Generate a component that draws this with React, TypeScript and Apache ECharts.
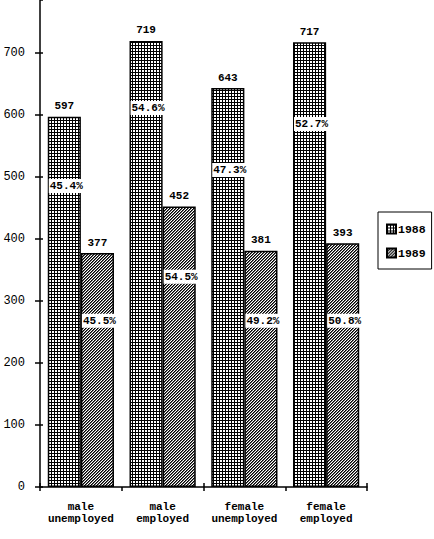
import React, { useEffect, useRef } from "react";
import * as echarts from "echarts";

const categories = ["male\nunemployed", "male\nemployed", "female\nunemployed", "female\nemployed"];
const seriesNames = ["1988", "1989"];
const values1988 = [597, 719, 643, 717];
const values1989 = [377, 452, 381, 393];
const share1988 = ["45.4%", "54.6%", "47.3%", "52.7%"];
const share1989 = ["45.5%", "54.5%", "49.2%", "50.8%"];
// value level (on the y scale) at which each share label sits
const shareAt1988 = [485, 611, 511, 585];
const shareAt1989 = [268, 339, 268, 268];
const yTicks = [0, 100, 200, 300, 400, 500, 600, 700];

const MONO = "'Liberation Mono', 'DejaVu Sans Mono', monospace";
const Y_MAX = 785;
const CAT_GAP = 0.19;

function makeGrid(): HTMLCanvasElement {
  const c = document.createElement("canvas");
  c.width = 3;
  c.height = 3;
  const ctx = c.getContext("2d")!;
  ctx.fillStyle = "#000";
  ctx.fillRect(0, 0, 3, 3);
  ctx.fillStyle = "#fff";
  ctx.fillRect(1, 1, 2, 2);
  return c;
}

function makeHatch(): HTMLCanvasElement {
  const c = document.createElement("canvas");
  c.width = 3;
  c.height = 3;
  const ctx = c.getContext("2d")!;
  ctx.fillStyle = "#fff";
  ctx.fillRect(0, 0, 3, 3);
  for (let i = 0; i < 3; i++) {
    ctx.fillStyle = "#000";
    ctx.fillRect(i, 2 - i, 1, 1);
    ctx.fillStyle = "#666";
    ctx.fillRect(i, (3 - i) % 3, 1, 1);
  }
  return c;
}

export default function App() {
  const ref = useRef<HTMLDivElement>(null);
  useEffect(() => {
    if (!ref.current) return;
    const chart = echarts.init(ref.current, null, { renderer: "svg" });
    const grid = makeGrid();
    const hatch = makeHatch();
    const shareData = (vals: number[]) => vals.map((v, i) => [i, v]);
    const shareSeries = (name: string, at: number[], texts: string[], side: number) => ({
      type: "custom",
      name: name + "share",
      z: 10,
      silent: true,
      data: shareData(at),
      renderItem: (params: any, api: any) => {
        const idx = params.dataIndex;
        const pt = api.coord([api.value(0), api.value(1)]);
        const band = api.size([1, 0])[0];
        const barW = (band * (1 - CAT_GAP)) / 2;
        const left = side === 0 ? pt[0] - barW : pt[0];
        return {
          type: "text",
          x: left + 1,
          y: pt[1],
          style: {
            text: texts[idx],
            fill: "#000",
            font: `bold 11px ${MONO}`,
            align: "left",
            verticalAlign: "middle",
            backgroundColor: "#fff",
            padding: [2, 1, 1, 1],
          },
        };
      },
    });
    const valueLabel = {
      show: true,
      position: "top",
      distance: 5,
      color: "#000",
      fontFamily: MONO,
      fontWeight: "bold",
      fontSize: 11,
    };
    chart.setOption({
      animation: false,
      backgroundColor: "#fff",
      grid: { left: 40, right: 67, top: 0, bottom: 52 },
      legend: {
        orient: "vertical",
        left: 378,
        top: 212,
        padding: [11, 6, 10, 8],
        itemGap: 12,
        itemWidth: 9,
        itemHeight: 9,
        icon: "rect",
        borderColor: "#000",
        borderWidth: 1,
        data: seriesNames,
        textStyle: { fontFamily: MONO, fontWeight: "bold", fontSize: 11.5, color: "#000", padding: [0, 0, 0, -3] },
      },
      xAxis: [
        {
          type: "category",
          position: "bottom",
          data: categories,
          axisLine: { lineStyle: { color: "#000", width: 1.5 } },
          axisTick: { show: true, length: 4, lineStyle: { color: "#000", width: 1.5 } },
          axisLabel: {
            interval: 0,
            color: "#000",
            fontFamily: MONO,
            fontWeight: "bold",
            fontSize: 11,
            lineHeight: 12,
            margin: 14,
          },
        },
        {
          type: "category",
          position: "bottom",
          data: categories,
          axisLine: { show: false },
          axisTick: { show: true, inside: true, length: 4, lineStyle: { color: "#000", width: 1.5 } },
          axisLabel: { show: false },
        },
      ],
      yAxis: [
        {
          type: "value",
          position: "left",
          min: 0,
          max: Y_MAX,
          interval: 100,
          axisLine: { show: true, lineStyle: { color: "#000", width: 1.5 } },
          axisTick: { show: true, length: 5, lineStyle: { color: "#000", width: 1.5 } },
          axisLabel: {
            color: "#000",
            fontFamily: MONO,
            fontSize: 12,
            margin: 15,
            showMaxLabel: false,
            formatter: (v: number) => (yTicks.includes(v) ? String(v) : ""),
          },
          splitLine: { show: false },
        },
        {
          type: "value",
          position: "left",
          min: 0,
          max: Y_MAX,
          interval: 100,
          axisLine: { show: false },
          axisTick: { show: true, inside: true, length: 3, lineStyle: { color: "#000", width: 1.5 } },
          axisLabel: { show: false },
          splitLine: { show: false },
        },
      ],
      series: [
        {
          type: "bar",
          name: seriesNames[0],
          data: values1988,
          barGap: "0%",
          barCategoryGap: CAT_GAP * 100 + "%",
          itemStyle: { color: { image: grid, repeat: "repeat" }, borderColor: "#000", borderWidth: 1.5 },
          label: valueLabel,
        },
        {
          type: "bar",
          name: seriesNames[1],
          data: values1989,
          barGap: "0%",
          barCategoryGap: CAT_GAP * 100 + "%",
          itemStyle: { color: { image: hatch, repeat: "repeat" }, borderColor: "#000", borderWidth: 1.5 },
          label: valueLabel,
        },
        shareSeries(seriesNames[0], shareAt1988, share1988, 0),
        shareSeries(seriesNames[1], shareAt1989, share1989, 1),
      ],
    });
    return () => chart.dispose();
  }, []);
  return (
    <div
      ref={ref}
      style={{ position: "fixed", left: 0, top: 0, width: 434, height: 539, background: "#fff" }}
    />
  );
}
